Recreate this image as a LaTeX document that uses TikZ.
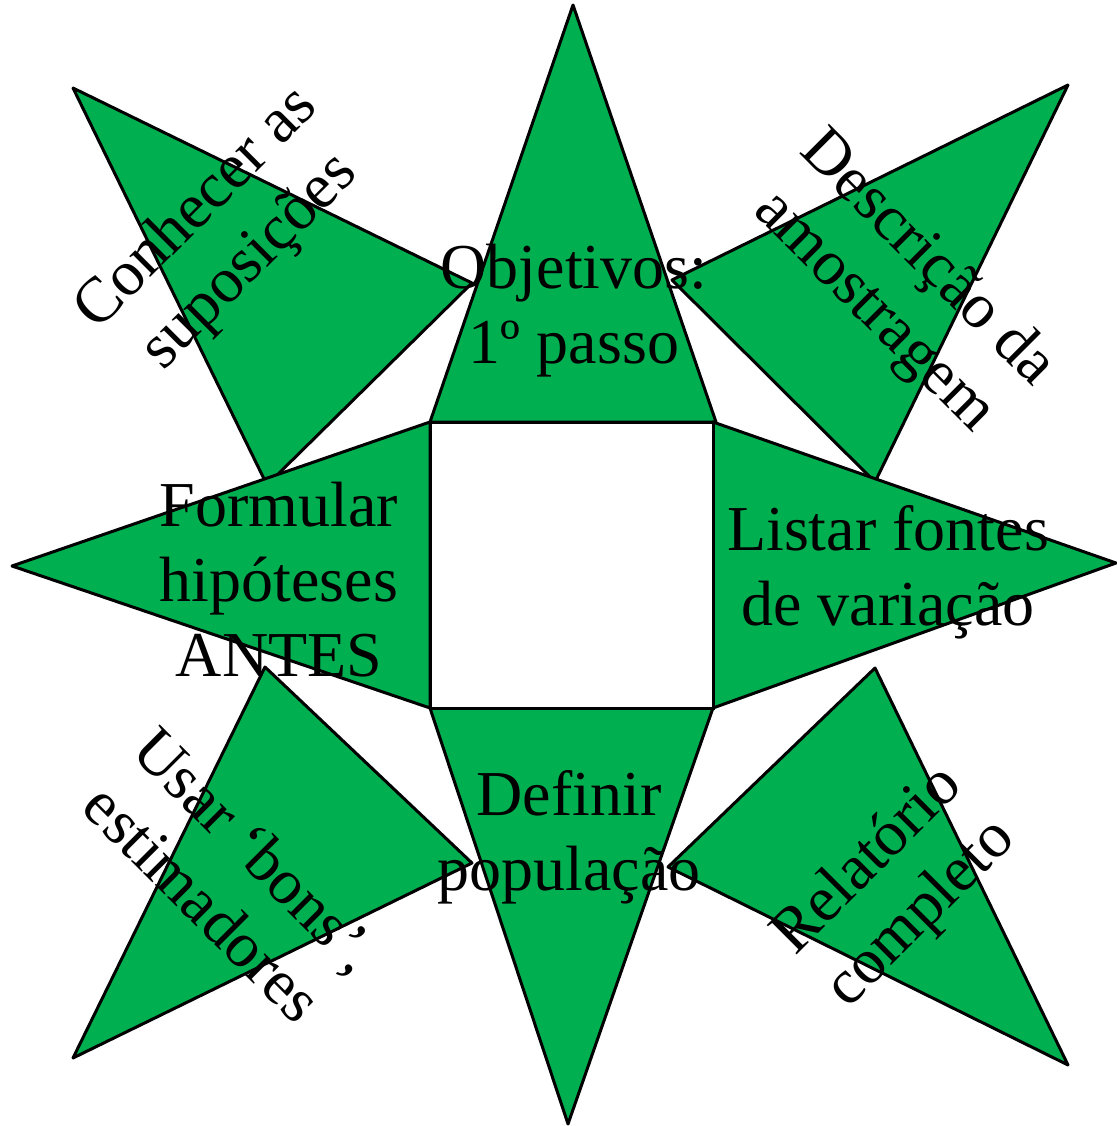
\documentclass[tikz,border=0pt]{standalone}
\usepackage{fontspec}
\setmainfont{Liberation Serif}
\definecolor{leafgreen}{RGB}{0,176,80}
\begin{document}
\begin{tikzpicture}[x=1pt,y=-1pt,
  tri/.style={fill=leafgreen,draw=black,line width=3pt,line join=round},
  lbl/.style={font=\fontsize{64}{75}\selectfont,align=center,inner sep=0pt,anchor=center}]
\useasboundingbox (0,0) rectangle (1116,1126);
% diagonal triangles (behind)
\draw[tri] (73,88) -- (472,283) -- (267,485) -- cycle;
\draw[tri] (1068,85) -- (672,280) -- (875,482) -- cycle;
\draw[tri] (73,1058) -- (265,667) -- (472,863) -- cycle;
\draw[tri] (1068,1065) -- (875,668) -- (668,867) -- cycle;
% cardinal triangles
\draw[tri] (430,422) -- (573,5) -- (716,422) -- cycle;
\draw[tri] (713,422) -- (1116,563) -- (713,708) -- cycle;
\draw[tri] (430,708) -- (568,1124) -- (713,708) -- cycle;
\draw[tri] (430,422) -- (12,566) -- (430,708) -- cycle;
% central square
\node[draw=black,fill=white,line width=3pt,minimum width=283pt,minimum height=286pt,inner sep=0pt] (sq) at (571.5,565) {};
% labels
\node[lbl] (obj) at (574,311) {Objetivos:\\1º passo};
\node[lbl] (form) at (279,580) {Formular\\hipóteses\\ANTES};
\node[lbl] (list) at (888,572) {Listar fontes\\de variação};
\node[lbl] (def) at (569,837) {Definir\\população};
\node[lbl,rotate=45] (con) at (224,236) {Conhecer as\\suposições};
\node[lbl,rotate=-45] (desc) at (900,286) {Descrição da\\amostragem};
\node[lbl,rotate=-45] (usar) at (230,876) {Usar ‘bons’,\\estimadores};
\node[lbl,rotate=45] (rel) at (895,888) {Relatório\\completo};
\end{tikzpicture}
\end{document}
